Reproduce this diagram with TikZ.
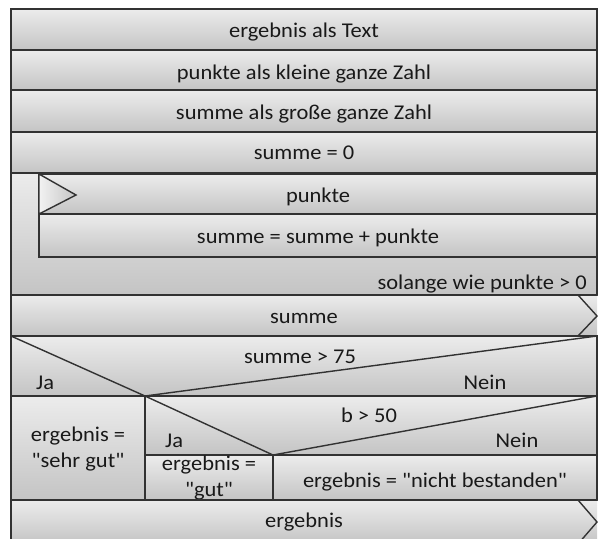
\documentclass[tikz,border=0pt]{standalone}
\usepackage{fontspec}
\setmainfont{Carlito}[FakeStretch=1.07, Ligatures=TeXOff]
\definecolor{hell}{RGB}{236,236,236}
\definecolor{dunkel}{RGB}{196,196,196}
\definecolor{rand}{RGB}{50,50,50}
\tikzset{
  feld/.style={top color=hell, bottom color=dunkel, draw=rand, line width=1.4pt},
  linie/.style={draw=rand, line width=1.4pt},
  txt/.style={font=\fontsize{21}{26}\selectfont, text=black!90, inner sep=0pt, anchor=base},
}
\begin{document}
\begin{tikzpicture}[x=1pt, y=-1pt]
  \useasboundingbox (0,0) rectangle (599,538);
  \clip (0,0) rectangle (599,538);
  % declarations
  \draw[feld] (11,9) rectangle (597,50);
  \node[txt] (dekl1) at (304,37) {ergebnis als Text};
  \draw[feld] (11,50) rectangle (597,90);
  \node[txt] (dekl2) at (304,79) {punkte als kleine ganze Zahl};
  \draw[feld] (11,90) rectangle (597,132);
  \node[txt] (dekl3) at (304,119) {summe als große ganze Zahl};
  \draw[feld] (11,132) rectangle (597,173);
  \node[txt] (init) at (304,159) {summe = 0};
  % loop
  \draw[feld] (11,173) rectangle (597,295);
  \draw[feld] (39,174) rectangle (597,214);
  \draw[linie, left color=white!95!black, right color=dunkel] (39,174) -- (76,195) -- (39,214) -- cycle;
  \node[txt] (eingabe) at (318,202) {punkte};
  \draw[feld] (39,214) rectangle (597,257);
  \node[txt] (addieren) at (318,243) {summe = summe + punkte};
  \node[txt, anchor=base east] (bedingung) at (587,289) {solange wie punkte > 0};
  % output
  \shade[top color=hell, bottom color=dunkel] (11,295) rectangle (597,336);
  \draw[linie] (597,295) -- (11,295) -- (11,336) -- (597,336);
  \draw[linie] (578,295) -- (597,316) -- (578,336);
  \node[txt] (ausgabe1) at (304,323) {summe};
  % decisions
  \draw[feld] (11,336) rectangle (597,396);
  \draw[linie] (11,336) -- (145,396) -- (597,336);
  \node[txt] (frage1) at (300,363) {summe > 75};
  \node[txt, anchor=base west] (ja1) at (36,389) {Ja};
  \node[txt] (nein1) at (485,389) {Nein};
  \draw[feld] (11,396) rectangle (145,500);
  \node[txt] (sehrgut1) at (78,441) {ergebnis =};
  \node[txt] (sehrgut2) at (78,467) {"sehr gut"};
  \draw[feld] (145,396) rectangle (597,455);
  \draw[linie] (145,396) -- (273,455) -- (597,396);
  \node[txt] (frage2) at (369,422) {b > 50};
  \node[txt, anchor=base west] (ja2) at (165,447) {Ja};
  \node[txt] (nein2) at (517,447) {Nein};
  \draw[feld] (145,455) rectangle (273,500);
  \begin{scope}
    \clip (145,455) rectangle (273,499);
    \node[txt] (gut1) at (209,470) {ergebnis =};
    \node[txt] (gut2) at (209,496) {"gut"};
  \end{scope}
  \draw[feld] (273,455) rectangle (597,500);
  \node[txt] (durch) at (435,487) {ergebnis = "nicht bestanden"};
  % output
  \shade[top color=hell, bottom color=dunkel] (11,500) rectangle (597,544);
  \draw[linie] (597,500) -- (11,500) -- (11,544) -- (597,544);
  \draw[linie] (578,500) -- (597,522) -- (578,544);
  \node[txt] (ausgabe2) at (304,527) {ergebnis};
\end{tikzpicture}
\end{document}
